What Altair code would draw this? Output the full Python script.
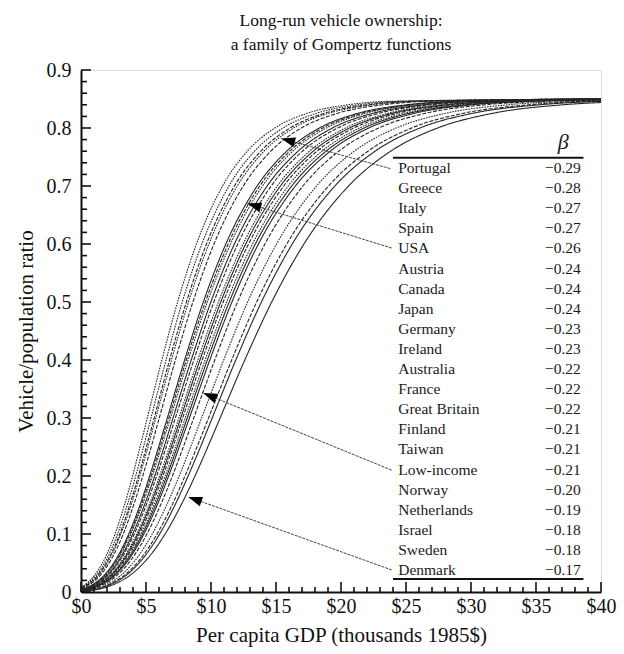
import math
import altair as alt
import pandas as pd

# ---------------- data ----------------
TITLE = ["Long-run vehicle ownership:", "a family of Gompertz functions"]
X_TITLE = "Per capita GDP (thousands 1985$)"
Y_TITLE = "Vehicle/population ratio"

COUNTRIES = ["Portugal", "Greece", "Italy", "Spain", "USA", "Austria", "Canada",
             "Japan", "Germany", "Ireland", "Australia", "France", "Great Britain",
             "Finland", "Taiwan", "Low-income", "Norway", "Netherlands", "Israel",
             "Sweden", "Denmark"]
BETA_LABELS = ["\u22120.29", "\u22120.28", "\u22120.27", "\u22120.27", "\u22120.26",
               "\u22120.24", "\u22120.24", "\u22120.24", "\u22120.23", "\u22120.23",
               "\u22120.22", "\u22120.22", "\u22120.22", "\u22120.21", "\u22120.21",
               "\u22120.21", "\u22120.20", "\u22120.19", "\u22120.18", "\u22120.18",
               "\u22120.17"]

# vehicle/population ratio levels, and the GDP (thousands 1985$) at which
# each curve reaches them
LEVELS = [0.01, 0.03, 0.06, 0.10, 0.15, 0.20, 0.25, 0.30, 0.40, 0.50, 0.60,
          0.70, 0.76, 0.80, 0.825, 0.84, 0.846]
GDP_AT_LEVEL = {
    "Portugal":      [0.10, 1.08, 1.88, 2.62, 3.34, 3.97, 4.54, 5.10, 6.22, 7.43, 8.88, 10.89, 12.79, 14.91, 17.35, 20.54, 23.71],
    "Greece":        [0.20, 1.22, 2.05, 2.81, 3.56, 4.21, 4.81, 5.38, 6.54, 7.79, 9.30, 11.38, 13.35, 15.54, 18.07, 21.37, 24.66],
    "Italy":         [0.29, 1.34, 2.19, 2.98, 3.75, 4.42, 5.03, 5.63, 6.81, 8.11, 9.65, 11.80, 13.83, 16.08, 18.69, 22.09, 25.47],
    "Spain":         [0.34, 1.40, 2.27, 3.06, 3.85, 4.52, 5.15, 5.75, 6.96, 8.27, 9.84, 12.02, 14.08, 16.36, 19.01, 22.46, 25.89],
    "USA":           [0.44, 1.53, 2.42, 3.25, 4.05, 4.75, 5.40, 6.02, 7.26, 8.61, 10.23, 12.48, 14.60, 16.95, 19.68, 23.24, 26.78],
    "Austria":       [0.67, 1.83, 2.79, 3.67, 4.54, 5.28, 5.97, 6.64, 7.97, 9.41, 11.14, 13.55, 15.82, 18.34, 21.25, 25.06, 28.85],
    "Canada":        [0.71, 1.90, 2.86, 3.75, 4.63, 5.39, 6.08, 6.76, 8.10, 9.57, 11.32, 13.75, 16.05, 18.60, 21.56, 25.41, 29.24],
    "Japan":         [0.75, 1.95, 2.93, 3.84, 4.72, 5.49, 6.19, 6.88, 8.24, 9.72, 11.50, 13.96, 16.29, 18.87, 21.86, 25.77, 29.65],
    "Germany":       [0.83, 2.06, 3.06, 3.98, 4.88, 5.67, 6.39, 7.08, 8.48, 9.99, 11.80, 14.32, 16.70, 19.34, 22.39, 26.38, 30.35],
    "Ireland":       [0.90, 2.14, 3.16, 4.10, 5.02, 5.82, 6.55, 7.26, 8.68, 10.22, 12.06, 14.63, 17.04, 19.73, 22.84, 26.90, 30.93],
    "Australia":     [1.00, 2.28, 3.32, 4.29, 5.24, 6.05, 6.81, 7.53, 8.99, 10.57, 12.47, 15.10, 17.58, 20.34, 23.53, 27.70, 31.85],
    "France":        [1.05, 2.35, 3.41, 4.38, 5.34, 6.17, 6.94, 7.67, 9.15, 10.75, 12.67, 15.34, 17.86, 20.66, 23.89, 28.12, 32.32],
    "Great Britain": [1.11, 2.42, 3.50, 4.49, 5.46, 6.30, 7.07, 7.82, 9.32, 10.94, 12.89, 15.60, 18.15, 20.99, 24.27, 28.55, 32.81],
    "Finland":       [1.18, 2.52, 3.61, 4.62, 5.61, 6.47, 7.26, 8.02, 9.55, 11.20, 13.19, 15.94, 18.54, 21.43, 24.78, 29.14, 33.48],
    "Taiwan":        [1.23, 2.59, 3.70, 4.73, 5.73, 6.60, 7.40, 8.17, 9.72, 11.40, 13.41, 16.21, 18.85, 21.78, 25.17, 29.60, 34.00],
    "Low-income":    [1.29, 2.67, 3.80, 4.84, 5.86, 6.74, 7.55, 8.34, 9.91, 11.61, 13.65, 16.49, 19.17, 22.14, 25.58, 30.07, 34.54],
    "Norway":        [1.42, 2.84, 4.00, 5.07, 6.12, 7.03, 7.87, 8.67, 10.29, 12.04, 14.15, 17.07, 19.83, 22.89, 26.43, 31.06, 35.66],
    "Netherlands":   [1.64, 3.14, 4.36, 5.48, 6.59, 7.55, 8.43, 9.28, 10.98, 12.82, 15.04, 18.12, 21.02, 24.24, 27.97, 32.84, 37.68],
    "Israel":        [1.84, 3.40, 4.68, 5.85, 7.01, 8.00, 8.92, 9.81, 11.59, 13.51, 15.83, 19.04, 22.07, 25.43, 29.33, 34.41, 39.46],
    "Sweden":        [1.94, 3.54, 4.84, 6.05, 7.23, 8.24, 9.19, 10.09, 11.91, 13.88, 16.25, 19.53, 22.62, 26.07, 30.05, 35.25],
    "Denmark":       [2.17, 3.84, 5.21, 6.47, 7.70, 8.77, 9.75, 10.70, 12.60, 14.67, 17.15, 20.58, 23.82, 27.43, 31.60, 37.04],
}
RATIO_AT_0 = [0.009, 0.008, 0.007, 0.007, 0.006, 0.005, 0.004, 0.004, 0.004, 0.004,
              0.003, 0.003, 0.003, 0.003, 0.003, 0.003, 0.002, 0.002, 0.002, 0.002, 0.001]
RATIO_AT_40 = [0.850, 0.850, 0.850, 0.850, 0.850, 0.850, 0.850, 0.850, 0.850, 0.849,
               0.849, 0.849, 0.849, 0.849, 0.849, 0.849, 0.848, 0.847, 0.846, 0.846, 0.844]
LINE_STYLE = ["dot", "dot", "dash", "dot", "dash", "solid", "dash", "dot", "solid",
              "dash", "dot", "solid", "dash", "dot", "solid", "solid", "dash", "dot",
              "dash", "solid", "solid"]

# leader arrows: from the table label to a curve (GDP, ratio)
ARROW_LABEL = ["Portugal", "USA", "Low-income", "Denmark"]
ARROW_FROM_X = [23.8, 23.9, 23.9, 23.9]
ARROW_FROM_Y = [0.730, 0.593, 0.210, 0.038]
ARROW_TO_X = [15.4, 12.8, 9.4, 8.25]
ARROW_TO_Y = [0.782, 0.670, 0.343, 0.164]

X_MAJOR = list(range(0, 41, 5))
X_MINOR = [v for v in range(41) if v % 5]
Y_MAJOR = [round(i / 10, 2) for i in range(10)]
Y_MINOR = [round(i / 50, 2) for i in range(46) if i % 5]

# ---------------- layout / style ----------------
W, H = 520, 522
PX_X = W / 40.0
PX_Y = H / 0.9
SERIF = "Liberation Serif"
INK = "#111111"

TABLE_NAME_X = 24.4
TABLE_VAL_X = 38.45
TABLE_RULE_X = (24.0, 38.65)
TABLE_TOP_Y = 0.731
ROW_STEP = 0.03466
TABLE_RULE_Y = (0.7488, 0.0224)
BETA_POS = (37.1, 0.776)

# ---------------- frames ----------------
rows = []
for i, c in enumerate(COUNTRIES):
    rows.append({"country": c, "x": 0.0, "y": RATIO_AT_0[i], "style": LINE_STYLE[i]})
    for gx, lv in zip(GDP_AT_LEVEL[c], LEVELS):
        rows.append({"country": c, "x": gx, "y": lv, "style": LINE_STYLE[i]})
    rows.append({"country": c, "x": 40.0, "y": RATIO_AT_40[i], "style": LINE_STYLE[i]})
curves = pd.DataFrame(rows)

arrows = pd.DataFrame({
    "label": ARROW_LABEL, "x": ARROW_FROM_X, "y": ARROW_FROM_Y,
    "x2": ARROW_TO_X, "y2": ARROW_TO_Y,
})
arrows["angle"] = [
    (math.degrees(math.atan2((tx - fx) * PX_X, (ty - fy) * PX_Y)) + 360) % 360
    for fx, fy, tx, ty in zip(ARROW_FROM_X, ARROW_FROM_Y, ARROW_TO_X, ARROW_TO_Y)
]

table = pd.DataFrame({
    "name": COUNTRIES, "beta": BETA_LABELS,
    "y": [TABLE_TOP_Y - i * ROW_STEP for i in range(len(COUNTRIES))],
})
table["x"] = TABLE_NAME_X
table["xv"] = TABLE_VAL_X

rules = pd.DataFrame({"x": [TABLE_RULE_X[0]] * 2, "x2": [TABLE_RULE_X[1]] * 2,
                      "y": list(TABLE_RULE_Y)})

# ---------------- chart ----------------
x_axis = alt.Axis(values=X_MAJOR, labelExpr="'$' + datum.value", ticks=False,
                  grid=False, domainColor=INK, domainWidth=2, labelFont=SERIF,
                  labelFontSize=20, labelColor=INK, labelPadding=4, labelFlush=False,
                  title=X_TITLE, titleFont=SERIF, titleFontSize=21,
                  titleFontWeight="normal", titleColor=INK, titlePadding=8)
y_axis = alt.Axis(values=Y_MAJOR,
                  labelExpr="datum.value == 0 ? '0' : format(datum.value, '.1f')",
                  ticks=False, grid=False, domainColor=INK, domainWidth=2,
                  labelFont=SERIF, labelFontSize=20, labelColor=INK, labelPadding=10,
                  labelFlush=False, title=Y_TITLE, titleFont=SERIF, titleFontSize=21,
                  titleFontWeight="normal", titleColor=INK, titlePadding=10)

xs = alt.Scale(domain=[0, 40], nice=False, zero=True)
ys = alt.Scale(domain=[0, 0.9], nice=False, zero=True)


def X(field):
    return alt.X(field, scale=xs, axis=x_axis)


def Y(field):
    return alt.Y(field, scale=ys, axis=y_axis)


lines = alt.Chart(curves).mark_line(interpolate="monotone", strokeWidth=1.1,
                                    color="#262626").encode(
    x=X("x:Q"), y=Y("y:Q"),
    detail="country:N",
    strokeDash=alt.StrokeDash("style:N", legend=None,
                              scale=alt.Scale(domain=["solid", "dash", "dot"],
                                              range=[[1, 0], [4, 1.5], [1.6, 1.1]])),
)

arrow_lines = alt.Chart(arrows).mark_rule(color="#444444", strokeWidth=1.0,
                                          strokeDash=[3, 1]).encode(
    x=X("x:Q"), y=Y("y:Q"), x2="x2:Q", y2="y2:Q")

arrow_heads = alt.Chart(arrows).mark_point(shape="M0,0L0.7,2L-0.7,2Z", filled=True,
                                           color="#000000", opacity=1, size=196).encode(
    x=X("x2:Q"), y=Y("y2:Q"),
    angle=alt.Angle("angle:Q", scale=None))

names = alt.Chart(table).mark_text(align="left", baseline="middle", font=SERIF,
                                   fontSize=15.5, color="#1a1a1a").encode(
    x=X("x:Q"), y=Y("y:Q"), text="name:N")
values = alt.Chart(table).mark_text(align="right", baseline="middle", font=SERIF,
                                    fontSize=15.5, color="#1a1a1a").encode(
    x=X("xv:Q"), y=Y("y:Q"), text="beta:N")

beta_head = alt.Chart(pd.DataFrame({"x": [BETA_POS[0]], "y": [BETA_POS[1]],
                                    "t": ["\u03b2"]})).mark_text(
    align="center", baseline="middle", font=SERIF, fontSize=22, fontStyle="italic",
    color="#1a1a1a").encode(x=X("x:Q"), y=Y("y:Q"), text="t:N")

table_rules = alt.Chart(rules).mark_rule(color=INK, strokeWidth=2).encode(
    x=X("x:Q"), x2="x2:Q", y=Y("y:Q"))


def xticks(vals, length):
    return alt.Chart(pd.DataFrame({"x": vals})).mark_rule(
        color=INK, strokeWidth=1.6).encode(
        x=X("x:Q"), y=alt.value(H), y2=alt.value(H - length))


def yticks(vals, length):
    return alt.Chart(pd.DataFrame({"y": vals})).mark_rule(
        color=INK, strokeWidth=1.6).encode(
        y=Y("y:Q"), x=alt.value(0), x2=alt.value(length))


chart = alt.layer(
    lines, arrow_lines, arrow_heads, table_rules, names, values, beta_head,
    xticks(X_MAJOR, 10), xticks(X_MINOR, 5), yticks(Y_MAJOR, 10), yticks(Y_MINOR, 6),
).properties(
    width=W, height=H,
    padding={"left": 81, "top": 70, "right": 23, "bottom": 62},
    autosize=alt.AutoSizeParams(type="none"),
    title=alt.TitleParams(text=TITLE, font=SERIF, fontSize=17.5, fontWeight="normal",
                          color=INK, anchor="middle", lineHeight=24, offset=7),
).configure_view(stroke=None).configure(background="white")

chart.save("out.html", embed_options={"renderer": "svg", "actions": False})
